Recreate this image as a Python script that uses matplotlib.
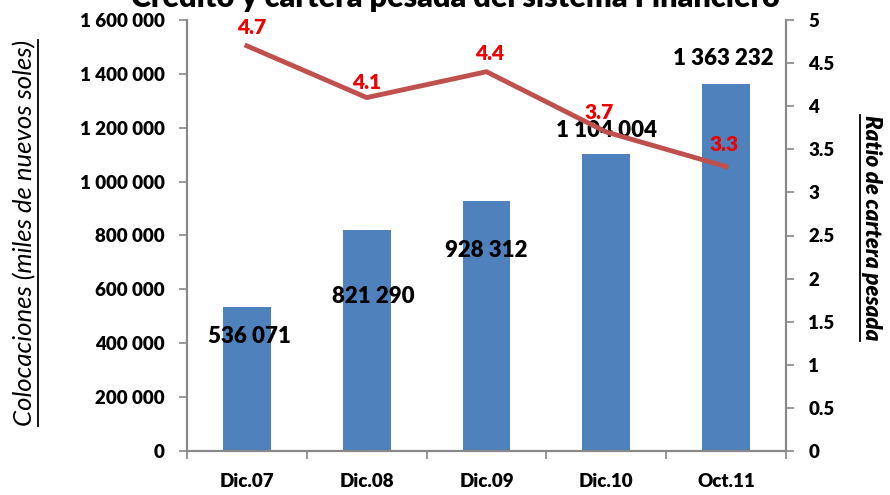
import matplotlib
matplotlib.use("Agg")
import matplotlib.pyplot as plt
import numpy as np
from matplotlib.ticker import FuncFormatter, FixedLocator

categories = ["Dic.07", "Dic.08", "Dic.09", "Dic.10", "Oct.11"]
colocaciones = [536071, 821290, 928312, 1104004, 1363232]
ratio = [4.7, 4.1, 4.4, 3.7, 3.3]
bar_label_offsets = [(3, -30), (7, -67), (0, -50), (0, 23), (-3, 25)]   # px
ratio_label_offsets = [(5, 18), (0, 15), (3, 18), (-7, 20), (-2, 22)]

W = 'heavy'
plt.rcParams['font.family'] = ['Lato', 'DejaVu Sans']

fig = plt.figure(figsize=(8.9, 4.95), dpi=100)
ax = fig.add_axes([187/890, 1-451/495, 599/890, 431/495])
ax2 = ax.twinx()

x = np.arange(len(categories))
ax.bar(x, colocaciones, width=0.40, color="#4F81BD", zorder=2)
ax.set_xlim(-0.5, len(categories)-0.5)
ax.set_ylim(0, 1600000)
ax.yaxis.set_major_locator(FixedLocator(np.arange(0, 1600001, 200000)))
ax.yaxis.set_major_formatter(FuncFormatter(lambda v, p: f"{int(v):,}".replace(",", " ")))

ax.set_xticks(x)
ax.set_xticklabels(categories, fontsize=13.5, fontweight=W)
ax.tick_params(axis='x', length=0, pad=16)
ax.set_xticks(np.arange(-0.5, len(categories), 1), minor=True)
ax.tick_params(axis='x', which='minor', length=6, direction='out', color='#888888', width=1.2)
ax.tick_params(axis='y', length=6, direction='out', color='#888888', width=1.2, labelsize=13.5, pad=10)
for lab in ax.get_yticklabels():
    lab.set_fontweight(W)

for s in ['top']:
    ax.spines[s].set_visible(False)
    ax2.spines[s].set_visible(False)
for s in ['left', 'right', 'bottom']:
    ax.spines[s].set_color('#888888')
    ax.spines[s].set_linewidth(1.5)
    ax2.spines[s].set_color('#888888')
    ax2.spines[s].set_linewidth(1.5)

for xi, v, (dx, dy) in zip(x, colocaciones, bar_label_offsets):
    ax.annotate(f"{v:,}".replace(",", " "), (xi, v), xytext=(dx, dy), textcoords='offset pixels',
                ha='center', va='center', fontsize=16, fontweight=W, color='black', zorder=5)

ax2.plot(x, ratio, color="#C0504D", linewidth=3.5, zorder=3)
ax2.set_ylim(0, 5)
ax2.yaxis.set_major_locator(FixedLocator(np.arange(0, 5.01, 0.5)))
ax2.yaxis.set_major_formatter(FuncFormatter(lambda v, p: f"{v:g}"))
ax2.tick_params(axis='y', length=6, direction='out', color='#888888', width=1.2, labelsize=13.5, pad=10)
for lab in ax2.get_yticklabels():
    lab.set_fontweight(W)
for xi, v, (dx, dy) in zip(x, ratio, ratio_label_offsets):
    ax2.annotate(f"{v}", (xi, v), xytext=(dx, dy), textcoords='offset pixels',
                 ha='center', va='center', fontsize=15, fontweight=W, color='#EE0000', zorder=6)

ax.set_ylabel("Colocaciones (miles de nuevos soles)", fontsize=18.5, fontstyle='italic', va='center')
ax.yaxis.set_label_coords(25/890*890/599 - 187/599, (451-233)/431)
ax2.set_ylabel("Ratio de cartera pesada", fontsize=16, fontstyle='italic', fontweight=W,
               rotation=270, va='center')
ax2.yaxis.set_label_coords((871-187)/599, (451-228)/431)

fig.text(455/890, 1-7/495, "Crédito y cartera pesada del sistema Financiero", ha='center', va='baseline',
         fontsize=22, fontweight=W)

# underline axis labels
fig.canvas.draw()
r = fig.canvas.get_renderer()
inv = fig.transFigure.inverted()
for lbl, side in [(ax.yaxis.label, 'right'), (ax2.yaxis.label, 'left')]:
    bb = lbl.get_window_extent(r).transformed(inv)
    xx = bb.x1 + 1/890 if side == 'right' else bb.x0 - 1/890
    fig.add_artist(plt.Line2D([xx, xx], [bb.y0, bb.y1], color='black', lw=1.3, transform=fig.transFigure))

fig.savefig("out.png", dpi=100)
